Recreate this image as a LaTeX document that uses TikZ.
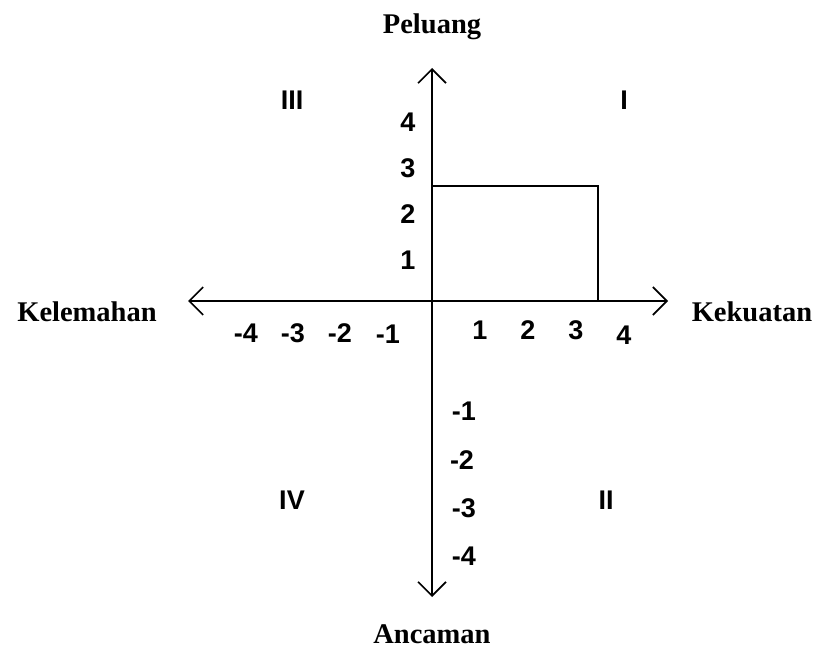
\documentclass[tikz,border=0pt]{standalone}
\usepackage{fontspec}
\setmainfont{Liberation Serif}
\newfontfamily\arialb{Liberation Sans}[BoldFont={Liberation Sans Bold}]
\usetikzlibrary{arrows.meta}
\begin{document}
\begin{tikzpicture}[x=1pt,y=-1pt,
  axis/.style={line width=1.6pt,-{Straight Barb[length=14pt,width=28pt,line width=1.6pt]}},
  num/.style={font=\arialb\bfseries\fontsize{27}{30}\selectfont,inner sep=0pt},
  ttl/.style={font=\bfseries\fontsize{28.5}{32}\selectfont,inner sep=0pt},
  box/.style={line width=1.4pt}]
\useasboundingbox (0,0) rectangle (820,666);
\coordinate (O) at (432,301);
\coordinate (T) at (432,68);
\coordinate (B) at (432,597);
\coordinate (L) at (188,301);
\coordinate (R) at (668,301);
\coordinate (r1) at (432,186);
\coordinate (r2) at (598,186);
\coordinate (r3) at (598,301);
\draw[axis] (O) -- (T);
\draw[axis] (O) -- (B);
\draw[axis] (O) -- (L);
\draw[axis] (O) -- (R);
\draw[box] (r1) -- (r2) -- (r3);
\node[ttl] (pel) at (432,27) {Peluang};
\node[ttl] (anc) at (432,634) {Ancaman};
\node[ttl] (kel) at (87,312) {Kelemahan};
\node[ttl] (kek) at (752,312) {Kekuatan};
\node[num] (q3) at (292,100) {III};
\node[num] (q1) at (624,100) {I};
\node[num] (q4) at (292,500) {IV};
\node[num] (q2) at (606,500) {II};
\node[num] (y4) at (408,122) {4};
\node[num] (y3) at (408,168) {3};
\node[num] (y2) at (408,214) {2};
\node[num] (y1) at (408,260) {1};
\node[num] (xm4) at (246,333) {-4};
\node[num] (xm3) at (293,333) {-3};
\node[num] (xm2) at (340,333) {-2};
\node[num] (xm1) at (388,334) {-1};
\node[num] (x1) at (480,330) {1};
\node[num] (x2) at (528,330) {2};
\node[num] (x3) at (576,330) {3};
\node[num] (x4) at (624,335) {4};
\node[num] (ym1) at (464,411) {-1};
\node[num] (ym2) at (462,460) {-2};
\node[num] (ym3) at (464,508) {-3};
\node[num] (ym4) at (464,556) {-4};
\end{tikzpicture}
\end{document}
